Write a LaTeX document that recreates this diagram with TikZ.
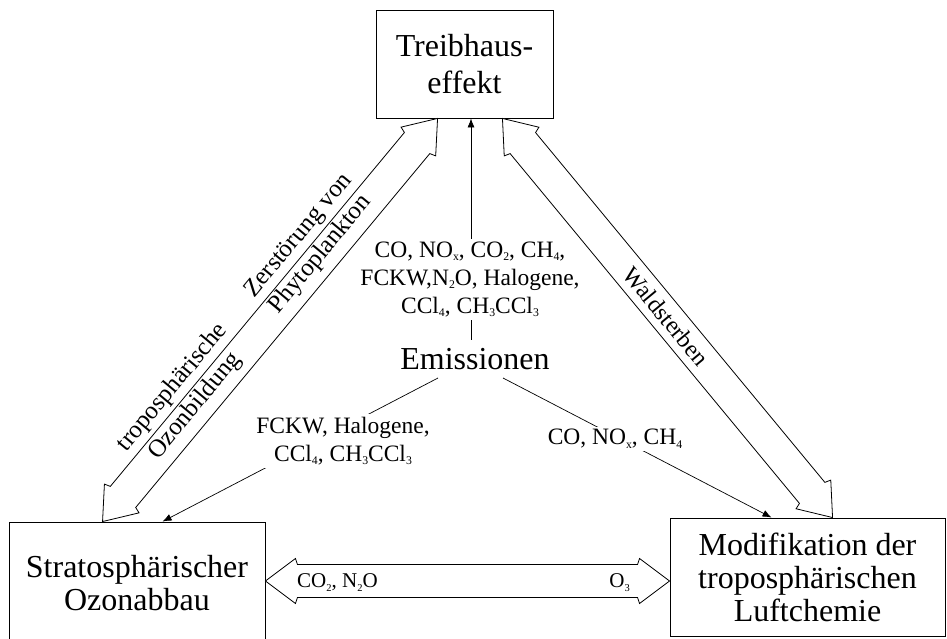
\documentclass[tikz,border=0pt]{standalone}
\usepackage{fontspec}
\usepackage{graphicx}
\setmainfont{Liberation Serif}
\usetikzlibrary{arrows.meta,positioning,calc}

% small lowered index as in the printed formulas
\newcommand{\chemsub}[1]{\raisebox{-0.15em}{\scalebox{0.5}{#1}}}

% hollow double-headed block arrow between two tips
\newcommand{\hollowarrow}[2]{%
  \draw[bigarrow] (#1)
    -- ($(#1)!30pt!(#2)!22.5pt!90:(#2)$)
    -- ($(#1)!32pt!(#2)!16.5pt!90:(#2)$)
    -- ($(#2)!32pt!(#1)!16.5pt!-90:(#1)$)
    -- ($(#2)!30pt!(#1)!22.5pt!-90:(#1)$)
    -- (#2)
    -- ($(#2)!30pt!(#1)!22.5pt!90:(#1)$)
    -- ($(#2)!32pt!(#1)!16.5pt!90:(#1)$)
    -- ($(#1)!32pt!(#2)!16.5pt!-90:(#2)$)
    -- ($(#1)!30pt!(#2)!22.5pt!-90:(#2)$)
    -- cycle;}

\begin{document}
\begin{tikzpicture}[x=1pt,y=1pt,
    box/.style={draw,line width=0.9pt,align=center,inner sep=0pt,
      font=\fontsize{32}{33}\selectfont},
    gas/.style={fill=white,align=center,inner sep=3pt,
      font=\fontsize{23.5}{28}\selectfont},
    arrowtext/.style={align=center,inner sep=0pt,
      font=\fontsize{25}{29}\selectfont},
    bigarrow/.style={draw,line width=0.8pt,fill=white},
    thinarrow/.style={->,line width=0.7pt},
    >={Latex[length=9pt,width=7pt]}]
  \useasboundingbox (0,0) rectangle (947,639);

  % the three effects
  \node[box,minimum width=177pt,minimum height=108pt,
    font=\fontsize{32}{37}\selectfont] (top) at (464.5,575) {Treibhaus-\\effekt};
  \node[box,minimum width=256pt,minimum height=122pt] (strat) at (137,56)
    {Stratosphärischer\\Ozonabbau};
  \node[box,minimum width=275pt,minimum height=118pt] (modif) at (807.5,62)
    {Modifikation der\\troposphärischen\\Luftchemie};

  \node[font=\fontsize{32}{33}\selectfont,anchor=base,inner sep=2pt] (emis)
    at (475,269) {Emissionen};

  % emission paths
  \coordinate (eT) at (471,299);
  \coordinate (eL) at (438,261);
  \coordinate (eR) at (503,261);
  \coordinate (topIn) at (top.south -| eT);
  \coordinate (stratIn) at ($(strat.north west)+(154,0)$);
  \coordinate (modifIn) at ($(modif.north west)+(102,0)$);
  \draw[thinarrow] (eT) -- (topIn);
  \draw[thinarrow] (eL) -- (stratIn);
  \draw[thinarrow] (eR) -- (modifIn);

  \node[gas] (gasT) at (470,359.5)
    {CO, NO\chemsub{x}, CO\chemsub{2}, CH\chemsub{4},\\
     FCKW,N\chemsub{2}O, Halogene,\\
     CCl\chemsub{4}, CH\chemsub{3}CCl\chemsub{3}};
  \node[gas] (gasL) at (343,198)
    {FCKW, Halogene,\\CCl\chemsub{4}, CH\chemsub{3}CCl\chemsub{3}};
  \node[gas,anchor=base,inner sep=2pt] (gasR) at (615,194)
    {CO, NO\chemsub{x}, CH\chemsub{4}};

  % block arrows
  \coordinate (tL) at ($(top.south west)+(62,0)$);
  \coordinate (tR) at ($(top.south east)+(-51,0)$);
  \coordinate (sT) at ($(strat.north west)+(94,0)$);
  \coordinate (mT) at ($(modif.north west)+(163,0)$);
  \coordinate (hL) at ($(strat.east)+(0,2)$);
  \coordinate (hR) at (hL -| modif.west);
  \hollowarrow{sT}{tL}
  \hollowarrow{tR}{mT}
  \hollowarrow{hL}{hR}

  \node[arrowtext,rotate=50.3] (ozon) at ($(sT)!148pt!(tL)!17pt!90:(tL)$)
    {troposphärische\\Ozonbildung};
  \node[arrowtext,rotate=50.3] (phyto) at ($(sT)!345pt!(tL)!17pt!90:(tL)$)
    {Zerstörung von\\Phytoplankton};
  \node[arrowtext,rotate=-50.4,font=\fontsize{24}{29}\selectfont] (wald)
    at ($(tR)!257pt!(mT)$) {Waldsterben};

  \node[anchor=base west,inner sep=0pt,font=\fontsize{21}{24}\selectfont] (co2)
    at (297,51) {CO\chemsub{2}, N\chemsub{2}O};
  \node[anchor=base east,inner sep=0pt,font=\fontsize{21}{24}\selectfont] (o3)
    at (630,51) {O\chemsub{3}};
\end{tikzpicture}
\end{document}
